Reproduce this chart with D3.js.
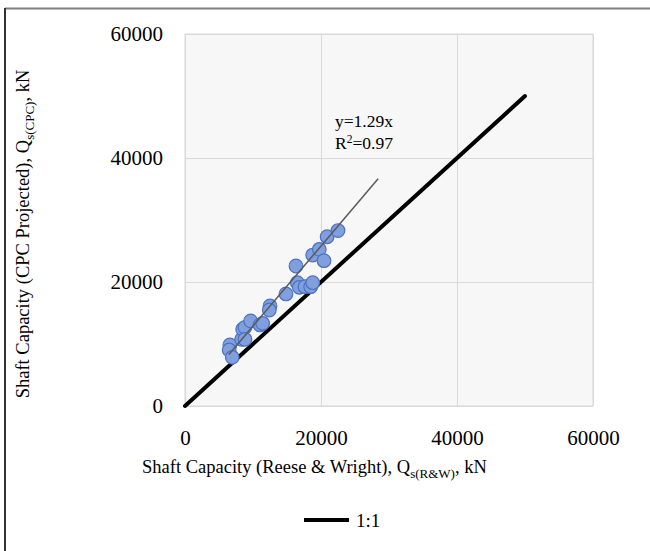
<!DOCTYPE html>
<html>
<head>
<meta charset="utf-8">
<script src="https://cdn.jsdelivr.net/npm/d3@7"></script>
<style>
  body { margin: 0; background: #fff; }
  svg { font-family: "Liberation Serif", "Times New Roman", serif; }
</style>
</head>
<body>
<div id="chart"></div>
<script>
// data (kN)
const rwCapacity = [6600, 6500, 6950, 8330, 8480, 8820, 9650, 8820, 11030, 11420, 12500, 12400,
  14850, 16320, 16520, 16810, 17650, 18480, 18780, 18780, 19750, 20440, 20900, 22500];
const cpcCapacity = [9850, 9030, 7850, 10750, 12370, 12690, 13710, 10750, 13070, 13330, 16130, 15480,
  18070, 22580, 19890, 19140, 19250, 19250, 19890, 24350, 25270, 23440, 27300, 28300];
const axisTicks = [0, 20000, 40000, 60000];
const oneToOne = [[0, 0], [50000, 50000]];
const slope = 1.29;
const fitRange = [6450, 28400];

const dataset = rwCapacity.map((d, i) => ({ x: d, y: cpcCapacity[i] }));

let dimensions = {
  width: 650,
  height: 551,
  margin: { top: 34, bottom: 145, left: 185, right: 57 }
};

const svg = d3.select('#chart')
  .append('svg')
  .attr('width', dimensions.width)
  .attr('height', dimensions.height);

const x = d3.scaleLinear()
  .domain([0, 60000])
  .range([dimensions.margin.left, dimensions.width - dimensions.margin.right]);

const y = d3.scaleLinear()
  .domain([0, 60000])
  .range([dimensions.height - dimensions.margin.bottom, dimensions.margin.top]);

// outer frame (only top and left edges show)
svg.append('line')
  .attr('x1', 5).attr('x2', 650).attr('y1', 8.5).attr('y2', 8.5)
  .attr('stroke', '#7f7f7f').attr('stroke-width', 2);
svg.append('line')
  .attr('x1', 5).attr('x2', 5).attr('y1', 8).attr('y2', 551)
  .attr('stroke', '#333').attr('stroke-width', 2);

// plot area
svg.append('rect')
  .attr('x', x(0)).attr('y', y(60000))
  .attr('width', x(60000) - x(0)).attr('height', y(0) - y(60000))
  .attr('fill', '#f7f7f7')
  .attr('stroke', '#d9d9d9');

// gridlines
svg.append('g')
  .attr('transform', `translate(0,${y(0)})`)
  .call(d3.axisBottom(x).tickValues(axisTicks).tickSize(-(y(0) - y(60000))).tickFormat(''))
  .call(g => g.select('.domain').remove())
  .selectAll('line').attr('stroke', '#d9d9d9');
svg.append('g')
  .attr('transform', `translate(${x(0)},0)`)
  .call(d3.axisLeft(y).tickValues(axisTicks).tickSize(-(x(60000) - x(0))).tickFormat(''))
  .call(g => g.select('.domain').remove())
  .selectAll('line').attr('stroke', '#d9d9d9');

// tick labels
svg.append('g')
  .attr('transform', `translate(0,${y(0) + 21})`)
  .call(d3.axisBottom(x).tickValues(axisTicks).tickSize(0).tickFormat(d3.format('d')))
  .call(g => g.select('.domain').remove())
  .selectAll('text')
  .style('font-size', '21px')
  .style('font-family', '"Liberation Serif", serif')
  .attr('fill', '#000');

svg.append('g')
  .attr('transform', `translate(${x(0) - 19},0)`)
  .call(d3.axisLeft(y).tickValues(axisTicks).tickSize(0).tickFormat(d3.format('d')))
  .call(g => g.select('.domain').remove())
  .selectAll('text')
  .style('font-size', '21px')
  .style('font-family', '"Liberation Serif", serif')
  .attr('fill', '#000');

// 1:1 line
const line = d3.line().x(d => x(d[0])).y(d => y(d[1]));
svg.append('path')
  .attr('d', line(oneToOne))
  .attr('stroke', '#000')
  .attr('stroke-width', 4)
  .attr('stroke-linecap', 'round')
  .attr('fill', 'none');

// points
svg.append('g')
  .selectAll('circle')
  .data(dataset)
  .join('circle')
  .attr('cx', d => x(d.x))
  .attr('cy', d => y(d.y))
  .attr('r', 6.8)
  .attr('fill', '#809fdc')
  .attr('stroke', '#4a72c4')
  .attr('stroke-width', 1.2);

// trendline y = 1.29x
svg.append('path')
  .attr('d', line(fitRange.map(v => [v, v * slope])))
  .attr('stroke', '#595959')
  .attr('stroke-width', 1.5)
  .attr('fill', 'none');

// equation
svg.append('text')
  .attr('x', 335)
  .attr('y', 127)
  .style('font-size', '17.5px')
  .text('y=1.29x');
const r2 = svg.append('text')
  .attr('x', 335)
  .attr('y', 149)
  .style('font-size', '17.5px');
r2.append('tspan').text('R');
r2.append('tspan').text('2').attr('dy', -6).style('font-size', '11.5px');
r2.append('tspan').text('=0.97').attr('dy', 6);

// x axis title
const xt = svg.append('text')
  .attr('x', 142)
  .attr('y', 473)
  .style('font-size', '18.5px');
xt.append('tspan').text('Shaft Capacity (Reese & Wright), Q');
xt.append('tspan').text('s(R&W)').attr('dy', 5).style('font-size', '13px');
xt.append('tspan').text(', kN').attr('dy', -5);

// y axis title
const yt = svg.append('text')
  .attr('transform', `translate(29,${(70 + 398) / 2}) rotate(-90)`)
  .attr('text-anchor', 'middle')
  .style('font-size', '18.5px');
yt.append('tspan').text('Shaft Capacity (CPC Projected), Q');
yt.append('tspan').text('s(CPC)').attr('dy', 5).style('font-size', '13px');
yt.append('tspan').text(', kN').attr('dy', -5);

// legend
svg.append('line')
  .attr('x1', 304).attr('x2', 349).attr('y1', 520).attr('y2', 520)
  .attr('stroke', '#000').attr('stroke-width', 4);
svg.append('text')
  .attr('x', 356).attr('y', 527)
  .style('font-size', '19px')
  .text('1:1');
</script>
</body>
</html>
